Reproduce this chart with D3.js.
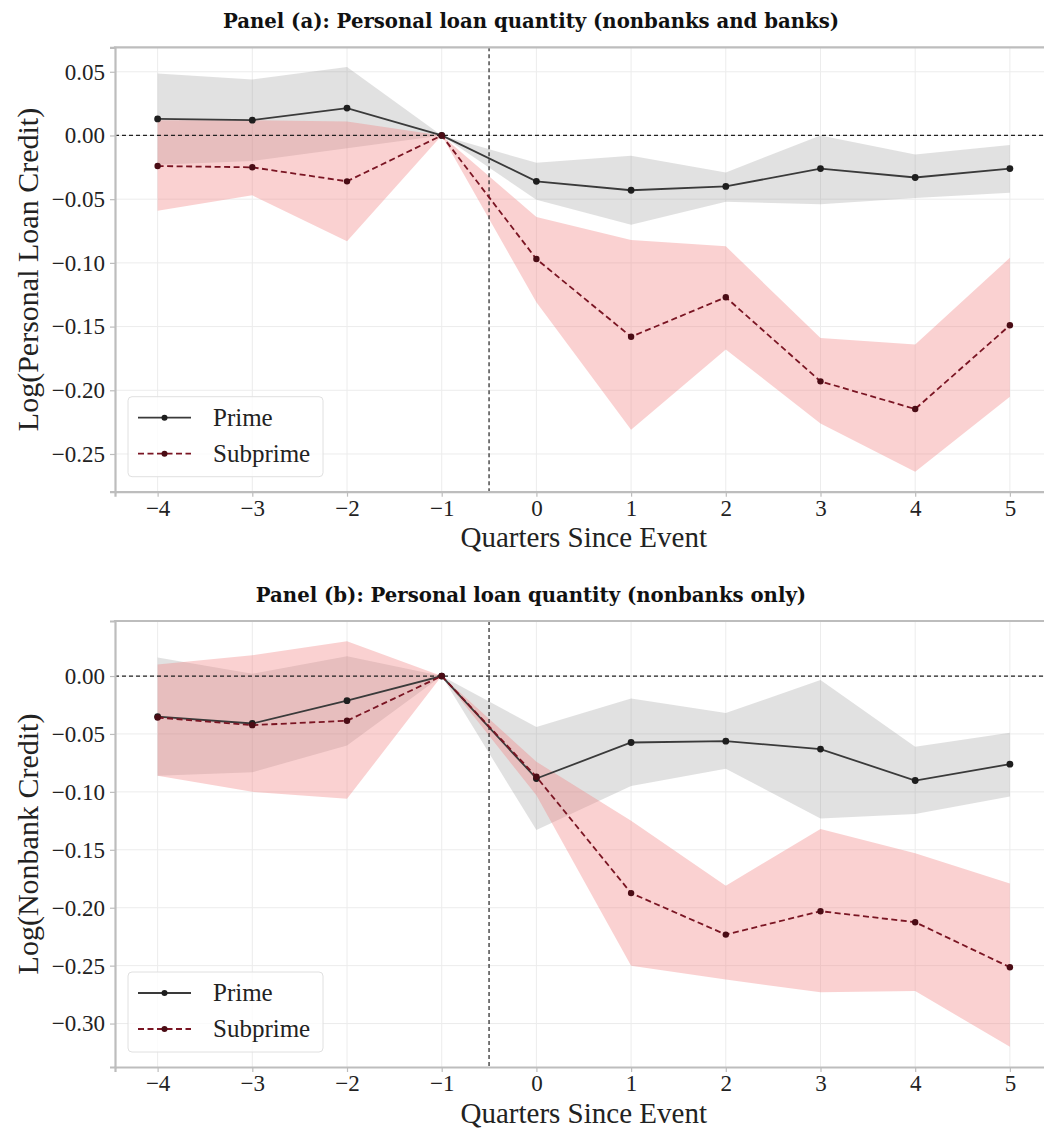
<!DOCTYPE html>
<html>
<head>
<meta charset="utf-8">
<script src="https://cdn.jsdelivr.net/npm/d3@7/dist/d3.min.js"></script>
<style>
  html, body { margin: 0; padding: 0; background: #fff; }
  svg { display: block; }
</style>
</head>
<body>
<svg id="chart" width="1044" height="1129"></svg>
<script>
// ---------------- DATA ----------------
const quarters = [-4, -3, -2, -1, 0, 1, 2, 3, 4, 5];
const seriesNames = ["Prime", "Subprime"];

// Panel (a): Personal loan quantity (nonbanks and banks)
const aPrime   = [0.013, 0.012, 0.0215, 0, -0.036, -0.043, -0.040, -0.026, -0.033, -0.026];
const aPrimeLo = [-0.023, -0.020, -0.010, 0, -0.0505, -0.070, -0.052, -0.054, -0.049, -0.045];
const aPrimeHi = [0.0487, 0.044, 0.0537, 0, -0.0215, -0.016, -0.029, 0.000, -0.015, -0.0075];
const aSub     = [-0.024, -0.025, -0.036, 0, -0.097, -0.158, -0.127, -0.193, -0.2147, -0.149];
const aSubLo   = [-0.059, -0.047, -0.083, 0, -0.131, -0.231, -0.168, -0.226, -0.264, -0.205];
const aSubHi   = [0.012, 0.012, 0.011, 0, -0.064, -0.082, -0.087, -0.159, -0.164, -0.096];

// Panel (b): Personal loan quantity (nonbanks only)
const bPrime   = [-0.035, -0.041, -0.0213, 0, -0.0885, -0.0574, -0.0562, -0.0631, -0.0902, -0.0761];
const bPrimeLo = [-0.086, -0.083, -0.060, 0, -0.133, -0.095, -0.080, -0.123, -0.119, -0.104];
const bPrimeHi = [0.016, 0.002, 0.017, 0, -0.044, -0.0193, -0.032, -0.0035, -0.061, -0.049];
const bSub     = [-0.0358, -0.0424, -0.0386, 0, -0.087, -0.1874, -0.2232, -0.203, -0.2125, -0.2514];
const bSubLo   = [-0.086, -0.100, -0.106, 0, -0.103, -0.250, -0.262, -0.273, -0.272, -0.320];
const bSubHi   = [0.010, 0.018, 0.030, 0, -0.074, -0.125, -0.181, -0.132, -0.153, -0.179];

// Axis ticks
const xTicks = [-4, -3, -2, -1, 0, 1, 2, 3, 4, 5];
const aYTicks = [0.05, 0.00, -0.05, -0.10, -0.15, -0.20, -0.25];
const bYTicks = [0.00, -0.05, -0.10, -0.15, -0.20, -0.25, -0.30];
const xDomain = [-4.45, 5.45];
const aYDomain = [-0.2796, 0.0692];
const bYDomain = [-0.3375, 0.0475];
const eventX = -0.5;

const titles = [
  "Panel (a): Personal loan quantity (nonbanks and banks)",
  "Panel (b): Personal loan quantity (nonbanks only)"
];
const xLabel = "Quarters Since Event";
const yLabels = ["Log(Personal Loan Credit)", "Log(Nonbank Credit)"];

// ---------------- DRAW ----------------
const svg = d3.select("#chart");
const SERIF = "'Liberation Serif', 'Times New Roman', serif";
const TITLE_FONT = "'DejaVu Serif', serif";
const primeLine = "#3a3a3a", primeDot = "#1e1e1e";
const subLine = "#7a1523", subDot = "#4a0c15";

const panels = [
  { title: titles[0], yLabel: yLabels[0], top: 47.3, bottom: 491.7, yDomain: aYDomain, yTicks: aYTicks,
    prime: aPrime, primeLo: aPrimeLo, primeHi: aPrimeHi, sub: aSub, subLo: aSubLo, subHi: aSubHi, titleY: 28 },
  { title: titles[1], yLabel: yLabels[1], top: 621, bottom: 1067, yDomain: bYDomain, yTicks: bYTicks,
    prime: bPrime, primeLo: bPrimeLo, primeHi: bPrimeHi, sub: bSub, subLo: bSubLo, subHi: bSubHi, titleY: 602 }
];

const left = 115, right = 1052.5;
const x = d3.scaleLinear().domain(xDomain).range([left, right]);
const fmt = d3.format(".2f");

panels.forEach(p => {
  const y = d3.scaleLinear().domain(p.yDomain).range([p.bottom, p.top]);
  const g = svg.append("g");

  // grid
  g.append("g").selectAll("line").data(xTicks).join("line")
    .attr("x1", d => x(d)).attr("x2", d => x(d)).attr("y1", p.top).attr("y2", p.bottom)
    .attr("stroke", "#ececec").attr("stroke-width", 1);
  g.append("g").selectAll("line").data(p.yTicks).join("line")
    .attr("x1", left).attr("x2", right).attr("y1", d => y(d)).attr("y2", d => y(d))
    .attr("stroke", "#ececec").attr("stroke-width", 1);

  const idx = d3.range(quarters.length);
  const area = (lo, hi) => d3.area().x(i => x(quarters[i])).y0(i => y(lo[i])).y1(i => y(hi[i]))(idx);
  const line = (v) => d3.line().x(i => x(quarters[i])).y(i => y(v[i]))(idx);

  // bands
  g.append("path").attr("d", area(p.primeLo, p.primeHi)).attr("fill", "#808080").attr("fill-opacity", 0.24);
  g.append("path").attr("d", area(p.subLo, p.subHi)).attr("fill", "#f08080").attr("fill-opacity", 0.36);

  // reference lines
  g.append("line").attr("x1", left).attr("x2", right).attr("y1", y(0)).attr("y2", y(0))
    .attr("stroke", "#222").attr("stroke-width", 1.2).attr("stroke-dasharray", "4,3");
  g.append("line").attr("x1", x(eventX)).attr("x2", x(eventX)).attr("y1", p.top).attr("y2", p.bottom)
    .attr("stroke", "#222").attr("stroke-width", 1.2).attr("stroke-dasharray", "4,3");

  // series lines
  g.append("path").attr("d", line(p.prime)).attr("fill", "none").attr("stroke", primeLine).attr("stroke-width", 1.8);
  g.append("g").selectAll("circle").data(idx).join("circle")
    .attr("cx", i => x(quarters[i])).attr("cy", i => y(p.prime[i])).attr("r", 3.4).attr("fill", primeDot);
  g.append("path").attr("d", line(p.sub)).attr("fill", "none").attr("stroke", subLine)
    .attr("stroke-width", 1.8).attr("stroke-dasharray", "6,3.5");
  g.append("g").selectAll("circle").data(idx).join("circle")
    .attr("cx", i => x(quarters[i])).attr("cy", i => y(p.sub[i])).attr("r", 3.2).attr("fill", subDot);

  // axes
  const xa = g.append("g").attr("transform", `translate(0,${p.bottom})`)
    .call(d3.axisBottom(x).tickValues(xTicks).tickFormat(d3.format("d")).tickSizeOuter(0).tickSize(5).tickPadding(3));
  const ya = g.append("g").attr("transform", `translate(${left},0)`)
    .call(d3.axisLeft(y).tickValues(p.yTicks).tickFormat(fmt).tickSizeOuter(0).tickSize(5).tickPadding(5));
  [xa, ya].forEach(a => {
    a.select(".domain").attr("stroke", "#bdbdbd").attr("stroke-width", 2.2);
    a.selectAll(".tick line").attr("stroke", "#bdbdbd").attr("stroke-width", 1.2);
    a.selectAll(".tick text").attr("font-family", SERIF).attr("font-size", 23).attr("fill", "#222");
  });
  // top spine
  g.append("line").attr("x1", left - 1.1).attr("x2", right).attr("y1", p.top).attr("y2", p.top)
    .attr("stroke", "#bdbdbd").attr("stroke-width", 2.2);

  // labels
  g.append("text").attr("x", (left + right) / 2).attr("y", p.bottom + 55.5)
    .attr("text-anchor", "middle").attr("font-family", SERIF).attr("font-size", 29).attr("fill", "#222")
    .text(xLabel);
  g.append("text").attr("transform", `translate(38,${(p.top + p.bottom) / 2}) rotate(-90)`)
    .attr("text-anchor", "middle").attr("font-family", SERIF).attr("font-size", 30).attr("fill", "#222")
    .text(p.yLabel);
  g.append("text").attr("x", 531).attr("y", p.titleY)
    .attr("text-anchor", "middle").attr("font-family", TITLE_FONT).attr("font-weight", "bold")
    .attr("font-size", 19.7).attr("fill", "#111").text(p.title);

  // legend
  const lg = g.append("g").attr("transform", `translate(128,${p.bottom - 95})`);
  lg.append("rect").attr("x", 0).attr("y", 0).attr("width", 195).attr("height", 80).attr("rx", 4)
    .attr("fill", "#fff").attr("fill-opacity", 0.8).attr("stroke", "#e0e0e0").attr("stroke-width", 1);
  const entries = [
    { name: seriesNames[0], color: primeLine, dot: primeDot, dash: null },
    { name: seriesNames[1], color: subLine, dot: subDot, dash: "6,3.5" }
  ];
  entries.forEach((e, k) => {
    const cy = 21 + k * 36;
    lg.append("line").attr("x1", 10).attr("x2", 63).attr("y1", cy).attr("y2", cy)
      .attr("stroke", e.color).attr("stroke-width", 1.8).attr("stroke-dasharray", e.dash);
    lg.append("circle").attr("cx", 36.5).attr("cy", cy).attr("r", 3).attr("fill", e.dot);
    lg.append("text").attr("x", 85).attr("y", cy + 8).attr("font-family", SERIF).attr("font-size", 25)
      .attr("fill", "#222").text(e.name);
  });
});
</script>
</body>
</html>
